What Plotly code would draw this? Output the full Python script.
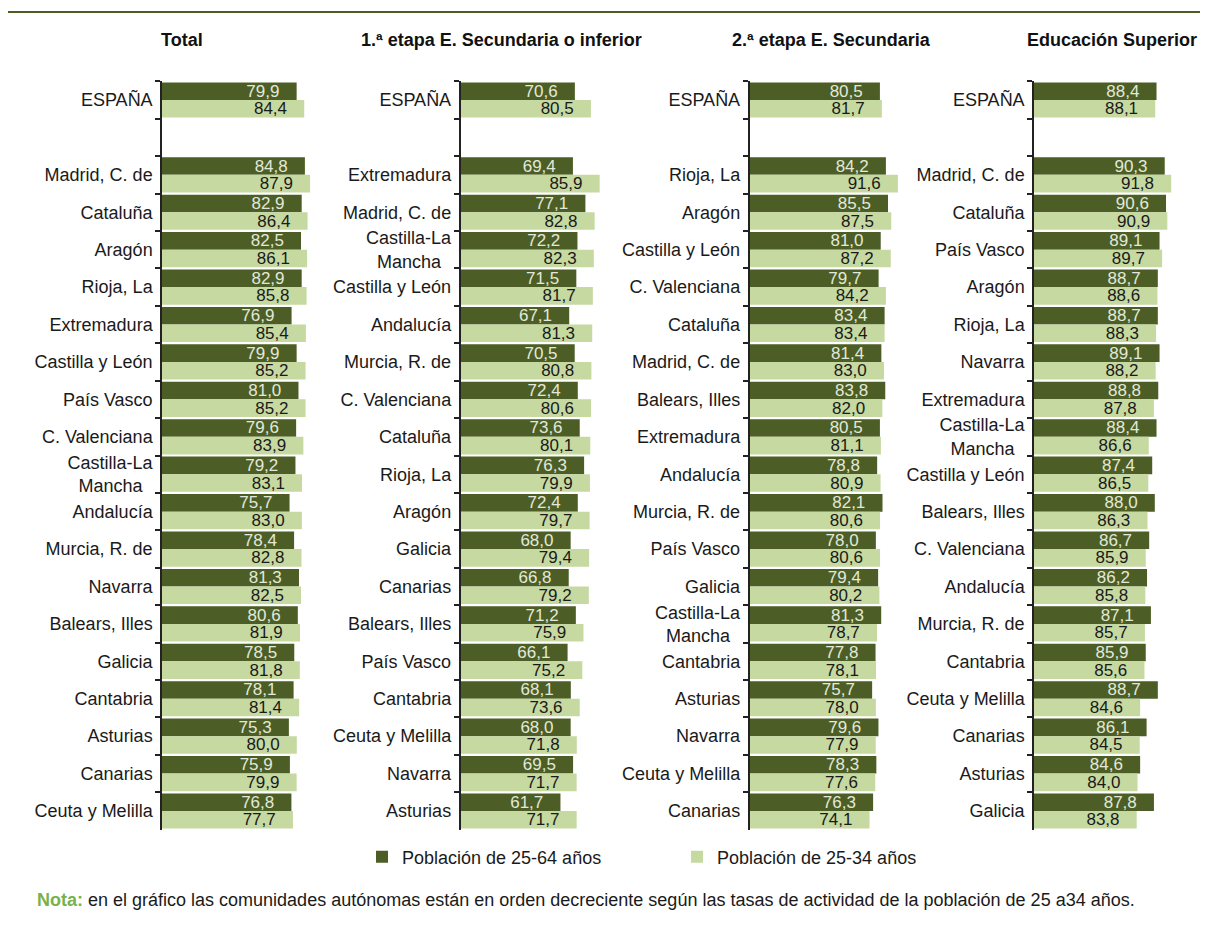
import plotly.graph_objects as go

# datos: tasas de actividad por comunidad autónoma
cat_total = ["ESPAÑA", " ", "Madrid, C. de", "Cataluña", "Aragón", "Rioja, La", "Extremadura",
             "Castilla y León", "País Vasco", "C. Valenciana", "Castilla-La<br>Mancha\u00a0\u00a0",
             "Andalucía", "Murcia, R. de", "Navarra", "Balears, Illes", "Galicia", "Cantabria",
             "Asturias", "Canarias", "Ceuta y Melilla"]
total_2564 = [79.9, None, 84.8, 82.9, 82.5, 82.9, 76.9, 79.9, 81.0, 79.6, 79.2,
              75.7, 78.4, 81.3, 80.6, 78.5, 78.1, 75.3, 75.9, 76.8]
total_2534 = [84.4, None, 87.9, 86.4, 86.1, 85.8, 85.4, 85.2, 85.2, 83.9, 83.1,
              83.0, 82.8, 82.5, 81.9, 81.8, 81.4, 80.0, 79.9, 77.7]

cat_sec1 = ["ESPAÑA", " ", "Extremadura", "Madrid, C. de", "Castilla-La<br>Mancha\u00a0\u00a0",
            "Castilla y León", "Andalucía", "Murcia, R. de", "C. Valenciana", "Cataluña",
            "Rioja, La", "Aragón", "Galicia", "Canarias", "Balears, Illes", "País Vasco",
            "Cantabria", "Ceuta y Melilla", "Navarra", "Asturias"]
sec1_2564 = [70.6, None, 69.4, 77.1, 72.2, 71.5, 67.1, 70.5, 72.4, 73.6, 76.3,
             72.4, 68.0, 66.8, 71.2, 66.1, 68.1, 68.0, 69.5, 61.7]
sec1_2534 = [80.5, None, 85.9, 82.8, 82.3, 81.7, 81.3, 80.8, 80.6, 80.1, 79.9,
             79.7, 79.4, 79.2, 75.9, 75.2, 73.6, 71.8, 71.7, 71.7]

cat_sec2 = ["ESPAÑA", " ", "Rioja, La", "Aragón", "Castilla y León", "C. Valenciana", "Cataluña",
            "Madrid, C. de", "Balears, Illes", "Extremadura", "Andalucía", "Murcia, R. de",
            "País Vasco", "Galicia", "Castilla-La<br>Mancha\u00a0\u00a0", "Cantabria", "Asturias",
            "Navarra", "Ceuta y Melilla", "Canarias"]
sec2_2564 = [80.5, None, 84.2, 85.5, 81.0, 79.7, 83.4, 81.4, 83.8, 80.5, 78.8,
             82.1, 78.0, 79.4, 81.3, 77.8, 75.7, 79.6, 78.3, 76.3]
sec2_2534 = [81.7, None, 91.6, 87.5, 87.2, 84.2, 83.4, 83.0, 82.0, 81.1, 80.9,
             80.6, 80.6, 80.2, 78.7, 78.1, 78.0, 77.9, 77.6, 74.1]

cat_sup = ["ESPAÑA", " ", "Madrid, C. de", "Cataluña", "País Vasco", "Aragón", "Rioja, La",
           "Navarra", "Extremadura", "Castilla-La<br>Mancha\u00a0\u00a0", "Castilla y León",
           "Balears, Illes", "C. Valenciana", "Andalucía", "Murcia, R. de", "Cantabria",
           "Ceuta y Melilla", "Canarias", "Asturias", "Galicia"]
sup_2564 = [88.4, None, 90.3, 90.6, 89.1, 88.7, 88.7, 89.1, 88.8, 88.4, 87.4,
            88.0, 86.7, 86.2, 87.1, 85.9, 88.7, 86.1, 84.6, 87.8]
sup_2534 = [88.1, None, 91.8, 90.9, 89.7, 88.6, 88.3, 88.2, 87.8, 86.6, 86.5,
            86.3, 85.9, 85.8, 85.7, 85.6, 84.6, 84.5, 84.0, 83.8]

titulos = ["Total", "1.ª etapa E. Secundaria o inferior", "2.ª etapa E. Secundaria",
           "Educación Superior"]
nombres = ["Población de 25-64 años", "Población de 25-34 años"]

paneles = [(cat_total, total_2564, total_2534),
           (cat_sec1, sec1_2564, sec1_2534),
           (cat_sec2, sec2_2564, sec2_2534),
           (cat_sup, sup_2564, sup_2534)]

OSCURO = "#4c5e25"
CLARO = "#c5d9a1"
FUENTE = "Liberation Sans, Arial, sans-serif"
# la página tiene 8px de margen en el body -> figura algo menor para no tener scroll
OFF = 8
W, H = 1192, 934


def px_x(v):
    return (v - OFF) / W


def px_y(v):
    return (H - (v - OFF)) / H


# posiciones de cada panel en pixeles (izq, der) y rango del eje x
dominios_px = [(162, 330.5), (460.5, 622.5), (749.5, 911.5), (1034, 1185)]
rangos_x = [[0, 100], [0, 100], [0, 100], [60, 95]]
pos_titulo = [(182, "center"), (501, "center"), (831, "center"), (1199, "right")]

y_top = 81.3
y_bot = 829.7

fig = go.Figure()

for i, (cats, v1, v2) in enumerate(paneles):
    n = "" if i == 0 else str(i + 1)
    for vals, col, txtcol, nom in [(v1, OSCURO, "#e2e9da", nombres[0]),
                                   (v2, CLARO, "#1a1a1a", nombres[1])]:
        fig.add_trace(go.Bar(
            x=vals, y=cats, orientation="h",
            marker=dict(color=col, line=dict(width=0)),
            name=nom, legendgroup=nom, showlegend=(i == 0),
            texttemplate="%{x:.1f}\u00a0\u00a0\u00a0",
            textposition="inside", insidetextanchor="end",
            constraintext="none",
            textfont=dict(color=txtcol, size=17, family=FUENTE),
            xaxis="x" + n, yaxis="y" + n,
            hoverinfo="skip",
        ))
    x0, x1 = dominios_px[i]
    fig.update_layout(**{
        "xaxis" + n: dict(domain=[px_x(x0), px_x(x1)], range=rangos_x[i], visible=False,
                          anchor="y" + n, fixedrange=True),
        "yaxis" + n: dict(domain=[px_y(y_bot), px_y(y_top)],
                          type="category", categoryorder="array", categoryarray=cats,
                          range=[len(cats) - 0.5, -0.5],
                          anchor="x" + n, tickson="boundaries",
                          ticks="outside", ticklen=5, tickcolor="#222", tickwidth=1.5,
                          ticklabelstandoff=4,
                          showline=True, linecolor="#222", linewidth=1.5,
                          showgrid=False, zeroline=False,
                          tickfont=dict(size=18, color="#1a1a1a", family=FUENTE)),
    })
    tx, anc = pos_titulo[i]
    fig.add_annotation(text="<b>" + titulos[i] + "</b>", xref="paper", yref="paper",
                       x=px_x(tx), y=px_y(40), xanchor=anc,
                       yanchor="middle", showarrow=False,
                       font=dict(size=18, color="#111", family=FUENTE))

fig.add_annotation(
    text="<b><span style='color:#78b24a'>Nota:</span></b> en el gráfico las comunidades autónomas "
         "están en orden decreciente según las tasas de actividad de la población de 25 a34 años.",
    xref="paper", yref="paper", x=px_x(35), y=px_y(900), xanchor="left", yanchor="middle",
    showarrow=False, font=dict(size=18, color="#1a1a1a", family=FUENTE))

fig.add_shape(type="line", xref="paper", yref="paper", x0=0, x1=1.0,
              y0=px_y(12), y1=px_y(12), line=dict(color="#4a5e23", width=2))

fig.update_layout(
    width=W, height=H,
    margin=dict(l=0, r=0, t=0, b=0),
    paper_bgcolor="white", plot_bgcolor="white",
    barmode="group", bargap=0.06, bargroupgap=0,
    separators=",.",
    font=dict(family=FUENTE, color="#1a1a1a"),
    legend=dict(orientation="h", x=px_x(362), y=px_y(857), xanchor="left",
                yanchor="middle", entrywidth=270, entrywidthmode="pixels",
                font=dict(size=18, family=FUENTE, color="#1a1a1a"),
                bgcolor="rgba(0,0,0,0)"),
)

fig.write_html("out.html")
